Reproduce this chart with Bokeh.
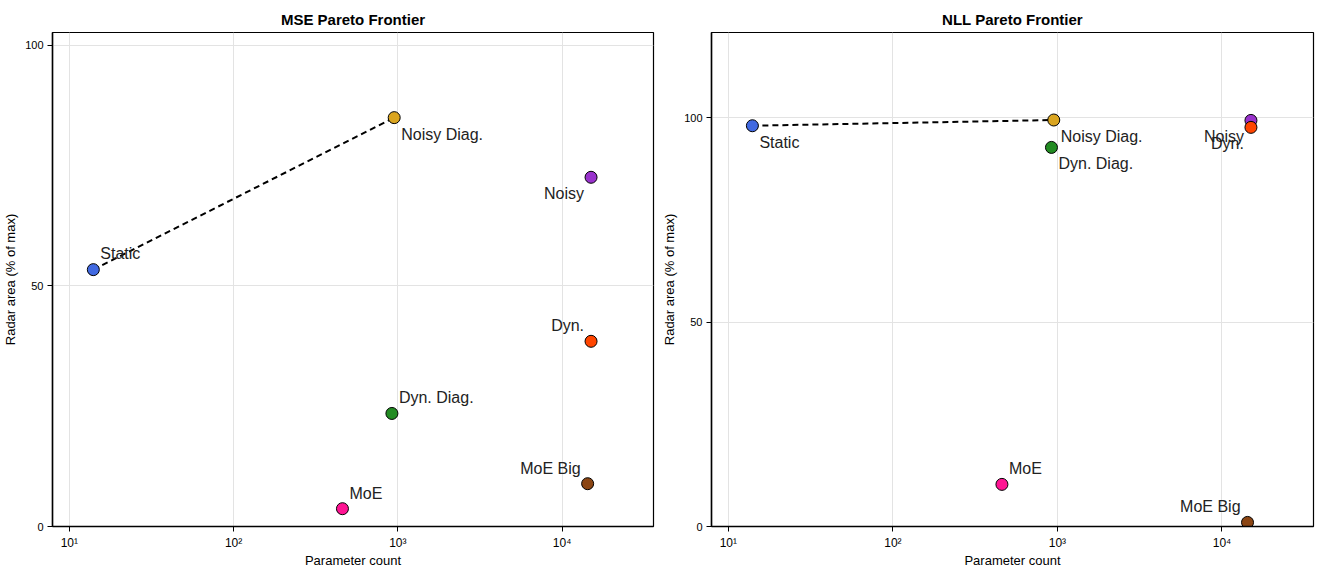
from bokeh.plotting import figure
from bokeh.layouts import row
from bokeh.models import ColumnDataSource, Range1d, FixedTicker
from bokeh.core.properties import value
from bokeh.embed import file_html
from bokeh.resources import INLINE

# Model variants and their parameter counts
names = ["Static", "Noisy Diag.", "Noisy", "Dyn.", "Dyn. Diag.", "MoE", "MoE Big"]
params = [14, 950, 15000, 15000, 920, 460, 14300]

# Radar area (% of max) per loss
mse_area = [53.4, 85.0, 72.6, 38.5, 23.5, 3.7, 8.9]
nll_area = [98.0, 99.4, 99.3, 97.6, 92.7, 10.3, 1.0]

colors = ["#4169E1", "#DAA520", "#9932CC", "#FF4500", "#228B22", "#FF1493", "#8B4513"]

x_ticks = [10, 100, 1000, 10000]
x_tick_labels = {10: "10¹", 100: "10²", 1000: "10³", 10000: "10⁴"}
y_ticks = [0, 50, 100]

FONT = "Liberation Sans"

# label placement per variant: (x_offset, y_offset, align, baseline)
mse_place = {
    "Static": (7, -8, "left", "bottom"),
    "Noisy Diag.": (7, 8, "left", "top"),
    "Noisy": (-7, 8, "right", "top"),
    "Dyn.": (-7, -7, "right", "bottom"),
    "Dyn. Diag.": (7, -7, "left", "bottom"),
    "MoE": (7, -7, "left", "bottom"),
    "MoE Big": (-7, -7, "right", "bottom"),
}
nll_place = {
    "Static": (7, 8, "left", "top"),
    "Noisy Diag.": (7, 8, "left", "top"),
    "Noisy": (-7, 8, "right", "top"),
    "Dyn.": (-7, 8, "right", "top"),
    "Dyn. Diag.": (7, 8, "left", "top"),
    "MoE": (7, -7, "left", "bottom"),
    "MoE Big": (-7, -7, "right", "bottom"),
}


def pareto(xs, ys):
    order = sorted(range(len(xs)), key=lambda i: (xs[i], -ys[i]))
    best = -1e9
    front = []
    for i in order:
        if ys[i] > best:
            best = ys[i]
            front.append(i)
    return [xs[i] for i in front], [ys[i] for i in front]


def make_panel(title, area, y_max, place, width):
    p = figure(width=width, height=570,
               x_axis_type="log", output_backend="svg", toolbar_location=None,
               x_range=Range1d(7.9, 36000), y_range=Range1d(0, y_max),
               min_border_left=10, min_border_right=6,
               min_border_top=32, min_border_bottom=10)
    p.title.text = title
    p.title.align = "center"
    p.title.text_font = FONT
    p.title.text_font_size = "15px"
    p.title.text_font_style = "bold"
    p.title.text_color = "black"

    p.outline_line_color = "black"
    p.outline_line_width = 1.2
    p.outline_line_alpha = 1

    p.xaxis.ticker = FixedTicker(ticks=x_ticks)
    p.xaxis.major_label_overrides = x_tick_labels
    p.yaxis.ticker = FixedTicker(ticks=y_ticks)
    for ax in (p.xaxis, p.yaxis):
        ax.major_label_text_font = FONT
        ax.major_label_text_font_size = "11px"
        ax.major_label_text_color = "black"
        ax.axis_label_text_font = FONT
        ax.axis_label_text_font_size = "13px"
        ax.axis_label_text_font_style = "normal"
        ax.axis_label_text_color = "black"
        ax.axis_line_color = "black"
        ax.axis_line_width = 1.5
        ax.major_tick_line_color = "black"
        ax.major_tick_out = 5
        ax.major_tick_in = 0
        ax.minor_tick_line_color = None
    p.xaxis.major_label_text_font_size = "12px"
    p.xaxis.axis_label = "Parameter count"
    p.yaxis.axis_label = "Radar area (% of max)"
    p.xaxis.axis_label_standoff = 0
    p.xaxis.major_label_standoff = 4
    p.yaxis.axis_label_standoff = 4
    p.yaxis.major_label_standoff = 4

    p.xgrid.grid_line_color = "#e3e3e3"
    p.ygrid.grid_line_color = "#e3e3e3"
    p.xgrid.ticker = FixedTicker(ticks=x_ticks)
    p.ygrid.ticker = FixedTicker(ticks=y_ticks)

    fx, fy = pareto(params, area)
    p.line(fx, fy, line_color="black", line_width=2, line_dash="6 4")

    src = ColumnDataSource(dict(x=params, y=area, c=colors, name=names))
    p.scatter("x", "y", source=src, size=12, fill_color="c",
              line_color="black", line_width=1)

    for nm, x, y in zip(names, params, area):
        dx, dy, al, bl = place[nm]
        p.text([x], [y], text=[nm], x_offset=dx, y_offset=dy,
               text_align=al, text_baseline=bl,
               text_font=value(FONT), text_font_size="16px", text_color="#222222")
    return p


p1 = make_panel("MSE Pareto Frontier", mse_area, 102.7, mse_place, 659)
p2 = make_panel("NLL Pareto Frontier", nll_area, 120.8, nll_place, 660)

layout = row(p1, p2)
open("out.html", "w").write(file_html(layout, INLINE))
